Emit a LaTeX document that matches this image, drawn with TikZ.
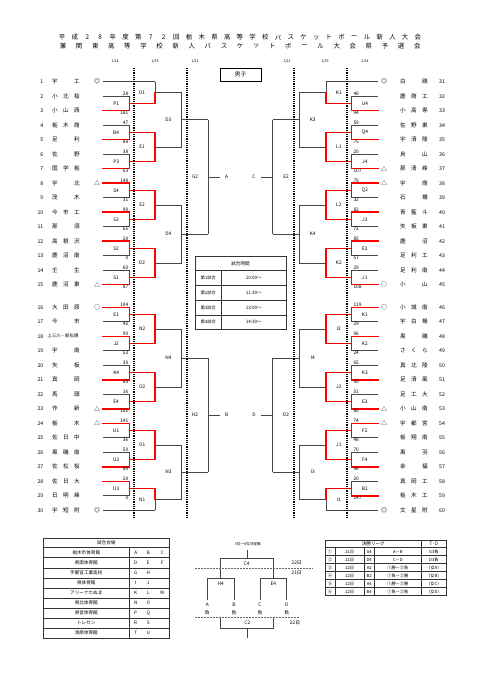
\documentclass[tikz,border=0pt]{standalone}
\usepackage{fontspec}
\setmainfont{Noto Sans CJK JP}
\usetikzlibrary{calc}
\newcommand\fsz[1]{\fontsize{#1}{#1}\selectfont}
% first-round match
\newcommand\rndA[7]{%
 \coordinate (#2t) at ($(#1A)+(0,{ry(#3)})$);
 \coordinate (#2b) at ($(#1A)+(0,{ry(#3+1)})$);
 \coordinate (#2) at ($(#2t)!0.5!(#2b)$);
 \draw[br] (#2t) -- (#2t -| #1B) -- (#2b -| #1B) -- (#2b);
 \draw[br] (#2 -| #1B) -- (#2 -| #1C);
 \ifnum#4=1 \draw[win] (#2t) -- (#2t -| #1B) -- (#2 -| #1B) -- (#2 -| #1C);
 \else \draw[win] (#2b) -- (#2b -| #1B) -- (#2 -| #1B) -- (#2 -| #1C); \fi
 \node[lab] (#2l) at ($(#2 -| #1A)!0.5!(#2 -| #1B)$) {#5};
 \node[sct#1] (#2s) at (#2t -| #1B) {#6};
 \node[scb#1] (#2u) at (#2b -| #1B) {#7};
}
% bye
\newcommand\byeln[3]{%
 \coordinate (#2) at ($(#1A)+(0,{ry(#3)})$);
 \draw[br] (#2) -- (#2 -| #1C);
}
% second round
\newcommand\rndB[7]{%
 \coordinate (#2) at ($(#3)!0.5!(#4)$);
 \draw[br] (#3 -| #1C) -- (#4 -| #1C);
 \draw[br] (#2 -| #1C) -- (#2 -| #1D);
 \ifnum#5=1 \draw[win] (#3 -| #1C) -- (#2 -| #1C); \fi
 \ifnum#6=1 \draw[win] (#4 -| #1C) -- (#2 -| #1C); \fi
 \node[lab] (#2l) at ($(#2 -| #1B)!0.5!(#2 -| #1C)$) {#7};
}
% third round
\newcommand\rndC[5]{%
 \coordinate (#2) at ($(#3)!0.5!(#4)$);
 \draw[br] (#3 -| #1D) -- (#4 -| #1D);
 \draw[br] (#2 -| #1D) -- (#2 -| #1E);
 \node[lab] (#2l) at ($(#2 -| #1C)!0.5!(#2 -| #1D)$) {#5};
}
% fourth round
\newcommand\rndD[6]{%
 \coordinate (#2) at ($(#3)!0.5!(#4)$);
 \draw[br] (#3 -| #1E) -- (#4 -| #1E);
 \draw[br] (#2 -| #1E) -- (#2 -| #1F);
 \node[lab] (#2l) at ($(#2 -| #1D)!0.5!(#2 -| #1E)$) {#5};
 \node[lab] (#2x) at (#2 -| #1G) {#6};
}
\begin{document}
\begin{tikzpicture}[x=1pt,y=-1pt,
 declare function={ry(\n)=(\n<16)*(81.7+(\n-1)*14.5)+(\n>15.5)*(307.3+(\n-16)*14.5);},
 br/.style={draw=black!72,line width=0.7pt},
 win/.style={draw=red,line width=1.5pt,line cap=rect},
 tb/.style={draw=black!80,line width=0.5pt},
 tbo/.style={draw=black!80,line width=1pt},
 dotline/.style={draw=black,line width=1.1pt,dash pattern=on 1.1pt off 1.1pt},
 dsh/.style={draw=black!60,line width=0.6pt,dash pattern=on 2pt off 1pt},
 tm/.style={font=\fsz{5.6},inner sep=0pt},
 num/.style={font=\fsz{5.2},inner sep=0pt},
 lab/.style={font=\fsz{4.8},inner sep=0pt},
 mk/.style={font=\fsz{6},inner sep=0pt},
 sc/.style={font=\fsz{4.8},inner sep=0.4pt},
 sctL/.style={sc,anchor=south east,xshift=-0.4pt},
 scbL/.style={sc,anchor=north east,xshift=-0.4pt},
 sctR/.style={sc,anchor=south west,xshift=1.2pt},
 scbR/.style={sc,anchor=north west,xshift=1.2pt},
 dt/.style={font=\fsz{3.6},inner sep=0pt},
 ttl/.style={font=\fsz{6.4},inner sep=0pt},
 ttx/.style={font=\fsz{4.6},inner sep=0pt},
 sm/.style={font=\fsz{4.2},inner sep=0pt}]
\useasboundingbox (0,0) rectangle (481,680);
\fill[white] (0,0) rectangle (481,680);

% column coordinates
\coordinate (LA) at (103,0); \coordinate (LB) at (129.3,0); \coordinate (LC) at (155,0);
\coordinate (LD) at (181.7,0); \coordinate (LE) at (208.3,0); \coordinate (LF) at (220,0);
\coordinate (LG) at (226.7,0);
\coordinate (RA) at (378,0); \coordinate (RB) at (351.7,0); \coordinate (RC) at (326,0);
\coordinate (RD) at (299.3,0); \coordinate (RE) at (272.7,0); \coordinate (RF) at (260.7,0);
\coordinate (RG) at (254,0);

% title
\foreach \c [count=\k] in {平,成,2,8,年,度,第,7,2,回,栃,木,県,高,等,学,校,バ,ス,ケ,ッ,ト,ボ,ー,ル,新,人,大,会}
 \node[ttl] (ta\k) at ({62+(\k-1)*12.71},37.5) {\c};
\foreach \c [count=\k] in {兼,関,東,高,等,学,校,新,人,バ,ス,ケ,ッ,ト,ボ,ー,ル,大,会,県,予,選,会}
 \node[ttl] (tb\k) at ({63+(\k-1)*16.1},46) {\c};

% dates
\node[dt] (d1) at (115,61.5) {1/14};
\node[dt] (d2) at (155,61.5) {1/15};
\node[dt] (d3) at (195,61.5) {1/21};
\node[dt] (d4) at (287,61.5) {1/21};
\node[dt] (d5) at (325,61.5) {1/15};
\node[dt] (d6) at (365,61.5) {1/14};

% boys box
\node[draw=black,line width=0.7pt,minimum width=41pt,minimum height=13pt,inner sep=0pt,font=\fsz{5.6}] (boys) at (240.5,74.5) {男子};

% left teams
\foreach \i in {1,...,30} \node[num,anchor=east] (ln\i) at (43.5,{ry(\i)}) {\i};
\foreach \i/\a/\b/\c in {1/宇//工,2/小/北/桜,3/小/山/西,4/栃/木/商,5/足//利,6/佐//野,7/国/学/栃,
 8/宇//北,9/茂//木,10/今/市/工,11/那//須,12/高/根/沢,13/鹿/沼/南,14/壬//生,15/鹿/沼/東,
 16/大/田/原,17/今//市,19/宇//南,20/矢//板,21/真//岡,22/馬//頭,23/作//新,24/栃//木,
 25/佐/日/中,26/黒/磯/南,27/佐/松/桜,28/佐/日/大,29/日/明/峰,30/宇/短/附}{
 \node[tm] (lta\i) at (55,{ry(\i)}) {\a};
 \node[tm] (ltb\i) at (66,{ry(\i)}) {\b};
 \node[tm] (ltc\i) at (77,{ry(\i)}) {\c};
}
\node[font=\fsz{4.4},inner sep=0pt] (lt18) at (63,{ry(18)}) {上三川・新松陽};
\foreach \i/\m in {1/◎,8/△,15/△,16/○,23/△,24/△,30/◎} \node[mk] (lm\i) at (97,{ry(\i)}) {\m};

% right teams
\foreach \i in {1,...,30}{\pgfmathtruncatemacro\j{\i+30}\node[num] (rn\i) at (442,{ry(\i)}) {\j};}
\foreach \i/\a/\b/\c in {1/白//鴎,2/鹿/商/工,3/小/高/専,4/佐/野/東,5/宇/清/陵,6/烏//山,7/那/清/峰,
 8/宇//商,9/石//橋,10/青/藍/斗,11/矢/板/東,12/鹿//沼,13/足/利/工,14/足/利/南,15/小//山,
 16/小/城/南,17/宇/白/楊,18/黒//磯,19/さ/く/ら,20/真/北/陵,21/足/清/風,22/足/工/大,23/小/山/南,
 24/宇/都/宮,25/栃/翔/南,26/黒//羽,27/幸//福,28/真/岡/工,29/栃/木/工,30/文/星/附}{
 \node[tm] (rta\i) at (403,{ry(\i)}) {\a};
 \node[tm] (rtb\i) at (414,{ry(\i)}) {\b};
 \node[tm] (rtc\i) at (425,{ry(\i)}) {\c};
}
\foreach \i/\m in {1/◎,7/△,8/△,15/○,16/○,23/△,24/△,30/◎} \node[mk] (rm\i) at (384,{ry(\i)}) {\m};

% ===== left bracket =====
\byeln{L}{Lw1}{1}
\rndA{L}{La}{2}{2}{P1}{28}{181}
\rndB{L}{LDa}{Lw1}{La}{0}{1}{D1}
\rndA{L}{Lb}{4}{2}{B4}{47}{88}
\rndA{L}{Lc}{6}{2}{P3}{38}{63}
\rndB{L}{LEa}{Lb}{Lc}{1}{1}{E1}
\rndC{L}{LDc}{LDa}{LEa}{D3}
\rndA{L}{Ld}{8}{1}{S4}{148}{31}
\rndA{L}{Le}{10}{1}{S3}{90}{65}
\rndB{L}{LEb}{Ld}{Le}{1}{1}{E2}
\rndA{L}{Lf}{12}{1}{S2}{20}{0}
\rndA{L}{Lg}{14}{2}{S1}{60}{87}
\rndB{L}{LDb}{Lf}{Lg}{1}{1}{D2}
\rndC{L}{LDd}{LEb}{LDb}{D4}
\rndD{L}{LGb}{LDc}{LDd}{G2}{A}
\rndA{L}{Lh}{16}{1}{E1}{104}{45}
\rndA{L}{Li}{18}{1}{J2}{90}{53}
\rndB{L}{LNb}{Lh}{Li}{1}{1}{N2}
\rndA{L}{Lj}{20}{2}{K4}{39}{65}
\rndA{L}{Lk}{22}{2}{E4}{16}{162}
\rndB{L}{LOb}{Lj}{Lk}{1}{1}{O2}
\rndC{L}{LNd}{LNb}{LOb}{N4}
\rndA{L}{Ll}{24}{1}{U1}{141}{36}
\rndA{L}{Lm}{26}{2}{U2}{50}{80}
\rndB{L}{LOa}{Ll}{Lm}{1}{1}{O1}
\rndA{L}{Ln}{28}{1}{U3}{20}{0}
\byeln{L}{Lw30}{30}
\rndB{L}{LNa}{Ln}{Lw30}{1}{0}{N1}
\rndC{L}{LNc}{LOa}{LNa}{N3}
\rndD{L}{LHb}{LNd}{LNc}{H2}{B}

% ===== right bracket =====
\byeln{R}{Rw1}{1}
\rndA{R}{Ra}{2}{2}{U4}{48}{94}
\rndB{R}{RKa}{Rw1}{Ra}{0}{1}{K1}
\rndA{R}{Rb}{4}{2}{Q4}{59}{75}
\rndA{R}{Rc}{6}{2}{J4}{20}{107}
\rndB{R}{RLa}{Rb}{Rc}{1}{1}{L1}
\rndC{R}{RKc}{RKa}{RLa}{K3}
\rndA{R}{Rd}{8}{1}{Q2}{79}{32}
\rndA{R}{Re}{10}{1}{J3}{82}{72}
\rndB{R}{RLb}{Rd}{Re}{1}{1}{L2}
\rndA{R}{Rf}{12}{1}{E2}{85}{57}
\rndA{R}{Rg}{14}{2}{J1}{29}{108}
\rndB{R}{RKb}{Rf}{Rg}{1}{1}{K2}
\rndC{R}{RKd}{RLb}{RKb}{K4}
\rndD{R}{REb}{RKc}{RKd}{E2}{C}
\rndA{R}{Rh}{16}{1}{K1}{119}{29}
\rndA{R}{Ri}{18}{1}{K2}{96}{24}
\rndB{R}{RIb}{Rh}{Ri}{1}{1}{I2}
\rndA{R}{Rj}{20}{2}{K3}{65}{90}
\rndA{R}{Rk}{22}{2}{E3}{51}{85}
\rndB{R}{RJb}{Rj}{Rk}{1}{1}{J2}
\rndC{R}{RId}{RIb}{RJb}{I4}
\rndA{R}{Rl}{24}{1}{F2}{74}{48}
\rndA{R}{Rm}{26}{2}{F4}{70}{96}
\rndB{R}{RJa}{Rl}{Rm}{1}{1}{J1}
\rndA{R}{Rn}{28}{2}{B2}{20}{147}
\byeln{R}{Rw30}{30}
\rndB{R}{RIa}{Rn}{Rw30}{1}{0}{I1}
\rndC{R}{RIc}{RJa}{RIa}{I3}
\rndD{R}{RDb}{RId}{RIc}{D2}{D}

% dotted date lines
\foreach \x/\n in {134/q1,187/q2,294/q3,347/q4}{
 \coordinate (\n t) at (\x,68); \coordinate (\n b) at (\x,517);
 \draw[dotline] (\n t) -- (\n b);
}

% ===== time table =====
\draw[tb] (195,256) rectangle (286,329.5);
\foreach \y in {270.7,285.5,300.2,315} \draw[tb] (195,\y) -- (286,\y);
\draw[tb] (221.7,270.7) -- (221.7,329.5);
\node[ttx] (tth) at (240.5,263.3) {試合時間};
\foreach \k/\t in {1/10:00～,2/11:30～,3/13:00～,4/14:30～}{
 \node[sm] (tg\k) at (208.3,{270.7+(\k-0.5)*14.7}) {第\k 試合};
 \node[ttx] (tt\k) at (253.8,{270.7+(\k-0.5)*14.7}) {\t};
}

% ===== venue table =====
\draw[tb] (43.3,547.6) -- (169.3,547.6);
\foreach \k in {1,...,8} \draw[tb] (43.3,{547.6+\k*10.08}) -- (169.3,{547.6+\k*10.08});
\draw[tb] (129.3,547.6) -- (129.3,638.3);
\draw[tbo] (43.3,538.3) rectangle (169.3,638.3);
\node[ttx] (vh) at (106.3,543) {試合会場};
\foreach \k/\v/\a/\b/\c in {0/栃木市体育館/A/B/C,1/県南体育館/D/E/F,2/宇都宮工業高校/G/H/,3/県体育館/I/J/,
 4/アリーナたぬま/K/L/M,5/県北体育館/N/O/,6/県営体育館/P/Q/,7/トレセン/R/S/,8/清原体育館/T/U/}{
 \node[ttx] (vn\k) at (86.3,{552.6+\k*10.08}) {\v};
 \node[ttx] (va\k) at (135.7,{552.6+\k*10.08}) {\a};
 \node[ttx] (vb\k) at (148.3,{552.6+\k*10.08}) {\b};
 \node[ttx] (vc\k) at (162.3,{552.6+\k*10.08}) {\c};
}

% ===== final league table =====
\foreach \k in {0,...,5} \draw[tb] (325,{547.7+\k*8}) -- (446,{547.7+\k*8});
\draw[tb] (421.7,540) -- (421.7,595.7);
\foreach \x in {335,364.3,374} \draw[tb] (\x,547.7) -- (\x,595.7);
\draw[tbo] (325,540) rectangle (446,595.7);
\node[ttx] (fh) at (373.3,543.9) {決勝リーグ};
\node[ttx] (fto) at (433.9,543.9) {T･O};
\foreach \k/\n/\d/\g/\m/\o in {0/①/21日/G4/A－B/G3負,1/②/21日/D4/C－D/D3負,2/③/22日/A2/①勝－②負/（女A）,
 3/④/22日/B2/①負－②勝/（女B）,4/⑤/22日/A4/①勝－②勝/（女C）,5/⑥/22日/B4/①負－②負/（女D）}{
 \node[sm] (fn\k) at (330,{551.7+\k*8}) {\n};
 \node[sm] (fd\k) at (349.7,{551.7+\k*8}) {\d};
 \node[sm] (fg\k) at (369.2,{551.7+\k*8}) {\g};
 \node[sm] (fm\k) at (397.8,{551.7+\k*8}) {\m};
 \node[sm] (fo\k) at (433.9,{551.7+\k*8}) {\o};
}

% ===== 5th-8th place diagram =====
\node[font=\fsz{3.6},inner sep=0pt] (pt) at (248,544) {5位～8位決定戦};
\coordinate (c4a) at (247.3,550); \coordinate (c4m) at (247.3,558.3);
\coordinate (c4l) at (220.7,558.3); \coordinate (c4r) at (273.3,558.3);
\coordinate (h4m) at (220.7,578.3); \coordinate (e4m) at (273.3,578.3);
\coordinate (h4l) at (207.3,578.3); \coordinate (h4r) at (234,578.3);
\coordinate (e4l) at (260,578.3); \coordinate (e4r) at (286.7,578.3);
\draw[br] (c4a) -- (c4m);
\draw[br] (h4m) -- (c4l) -- (c4r) -- (e4m);
\draw[br] (h4l |- 0,600) -- (h4l) -- (h4r) -- (h4r |- 0,600);
\draw[br] (e4l |- 0,600) -- (e4l) -- (e4r) -- (e4r |- 0,600);
\draw[dsh] (195,568.3) -- (313.3,568.3);
\draw[dsh] (195,617.7) -- (300,617.7);
\coordinate (c2l) at (220.7,628.3); \coordinate (c2r) at (273.3,628.3); \coordinate (c2m) at (247.3,628.3);
\draw[br] (c2l |- 0,618.3) -- (c2l) -- (c2r) -- (c2r |- 0,618.3);
\draw[br] (c2m) -- (247.3,638.3);
\node[lab] (pc4) at (246.7,563.3) {C4};
\node[lab] (pd22) at (296.7,563.3) {22日};
\node[lab] (pd21) at (296.7,573.3) {21日};
\node[lab] (ph4) at (220.7,584) {H4};
\node[lab] (pe4) at (273.3,584) {E4};
\foreach \x/\l in {207.3/A,234/B,260/C,286.7/D}{
 \node[lab] (pl\l) at (\x,605) {\l};
 \node[lab] (pf\l) at (\x,612.3) {負};
}
\node[lab] (pc2) at (247.3,622.7) {C2};
\node[lab] (pd22b) at (295,622.7) {22日};
\end{tikzpicture}
\end{document}
